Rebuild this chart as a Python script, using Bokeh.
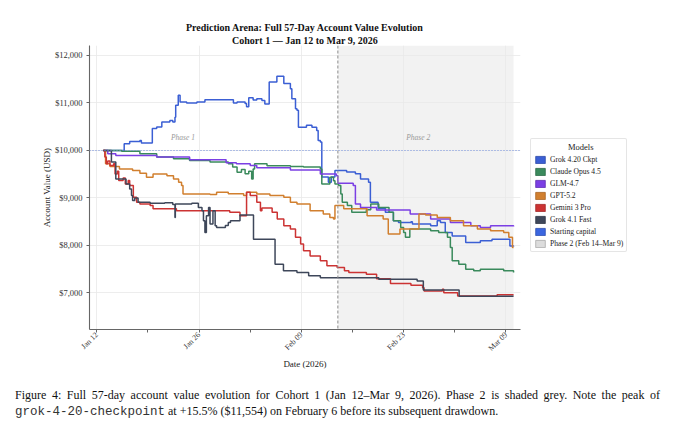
import math
from bokeh.plotting import figure
from bokeh.models import (Range1d, FixedTicker, Span, BoxAnnotation, Label, Legend,
                          LegendItem, Title, Div, NumeralTickFormatter)
from bokeh.layouts import column
from bokeh.embed import file_html
from bokeh.resources import INLINE

SERIF = "Liberation Serif"
NAN = float("nan")

# x values are days since Jan 12, 2026 00:00
x_ticks = [0, 14, 28, 42, 56]
x_tick_labels = ["Jan 12", "Jan 26", "Feb 09", "Feb 23", "Mar 09"]
x_minor_ticks = [7, 21, 35, 49]
y_ticks = [7000, 8000, 9000, 10000, 11000, 12000]

starting_capital = 10000
phase2_start = 33.0
phase2_end = 57.05

model_names = ["Grok 4.20 Ckpt", "Claude Opus 4.5", "GLM-4.7", "GPT-5.2", "Gemini 3 Pro", "Grok 4.1 Fast"]
model_colors = ["#3b5fd4", "#3a8a5c", "#7b3fe4", "#d17f2e", "#cc3333", "#3e475a"]

grok420_days = [0.9, 3.75, 4.5, 5.9, 6.1, 7.6, 8.2, 8.9, 10.0, 10.4, 10.7, 10.8, 11.15, 11.4, 12.3, 13.7, 14.8,
                18.7, 19.2, 20.3, 20.5, 20.8, 21.4, 21.9, 22.6, 23.0, 23.6, 24.65, 25.6, 26.5, 26.7, 27.2, 27.4,
                27.6, 28.7, 29.45, 30.1, 30.3, 30.6, 30.8, 31.7, 32.1, 32.6, 34.2, 35.4, 36.1, 37.2, 37.45, 38.5,
                39.5, 40.6, 41.3, 43.0, 43.2, 45.7, 46.6, 47.05, 47.7, 48.65, 50.5, 52.5, 54.1, 56.55, 57.05]
grok420_vals = [10000, 10140, 10190, 10210, 10155, 10460, 10495, 10600, 10630, 10600, 10700, 10950, 11160, 11020,
                11000, 11020, 11070, 11000, 11020, 10990, 10920, 11110, 11060, 11090, 11050, 10980, 11440, 11565,
                11410, 11300, 11090, 10880, 10845, 10490, 10530, 10490, 10420, 10210, 10180, 9440, 9330, 9440,
                9580, 9545, 9510, 9400, 9330, 8910, 8780, 8700, 8520, 8485, 8500, 8450, 8415, 8520, 8485, 8270,
                8200, 8060, 8100, 8130, 7990, 7980]

claude_days = [0.9, 3.4, 5.9, 8.2, 10.5, 12.7, 15.5, 18.0, 18.6, 19.2, 19.8, 20.3, 20.8, 21.2, 21.4, 21.6, 23.3,
               26.5, 28.3, 30.6, 30.8, 31.9, 32.4, 32.6, 33.1, 33.4, 33.6, 34.3, 34.9, 36.9, 37.5, 38.6, 40.0,
               40.6, 41.6, 42.0, 42.25, 42.85, 45.7, 46.8, 48.0, 48.4, 48.65, 49.55, 50.5, 51.6, 52.5, 55.7, 57.05]
claude_vals = [10000, 9985, 9930, 9860, 9825, 9790, 9755, 9720, 9650, 9540, 9600, 9510, 9560, 9400, 9610, 9720,
               9680, 9660, 9650, 9610, 9295, 9435, 9360, 9295, 9260, 9085, 8910, 8840, 8700, 8750, 8870, 8800,
               8700, 8520, 8380, 8270, 8170, 8345, 8310, 8270, 8170, 7955, 7675, 7605, 7500, 7465, 7500, 7465,
               7430]

glm_days = [0.9, 1.5, 2.6, 8.2, 12.7, 17.7, 19.1, 21.0, 21.9, 26.5, 30.6, 32.8, 33.0, 35.1, 35.4, 36.1, 38.3,
            40.2, 42.9, 45.7, 48.4, 51.2, 52.5, 53.9, 57.05]
glm_vals = [10000, 9930, 9895, 9860, 9805, 9740, 9720, 9685, 9635, 9590, 9505, 9470, 9310, 9260, 8875, 8800, 8745,
            8745, 8660, 8555, 8485, 8415, 8380, 8415, 8400]

gpt_days = [0.9, 1.2, 1.8, 3.1, 4.9, 5.9, 6.8, 7.7, 9.6, 10.5, 11.2, 11.6, 11.8, 15.5, 16.4, 18.0, 20.1, 20.5,
            21.9, 23.7, 25.6, 26.5, 27.4, 29.2, 31.0, 31.9, 32.4, 32.6, 33.8, 37.0, 39.2, 39.9, 41.5, 44.1, 45.0,
            46.6, 48.4, 50.2, 52.1, 53.9, 55.7, 56.4, 56.9, 57.05]
gpt_vals = [10000, 9720, 9660, 9610, 9580, 9520, 9435, 9505, 9470, 9400, 9330, 9260, 9085, 9070, 9120, 9090, 9050,
            9120, 9085, 9050, 9015, 8910, 8875, 8730, 8660, 8590, 8555, 8840, 8770, 8625, 8555, 8240, 8345, 8660,
            8640, 8590, 8520, 8415, 8345, 8310, 8275, 8170, 7955, 7955]

gemini_days = [0.9, 1.1, 1.3, 1.5, 1.8, 2.3, 2.5, 2.8, 3.0, 3.6, 3.9, 4.3, 4.5, 5.0, 5.45, 5.9, 7.3, 7.7, 10.9,
               18.2, 19.6, 20.5, 21.0, 21.9, 22.4, 22.6, 24.0, 24.7, 25.6, 26.5, 27.2, 27.9, 28.3, 29.2, 30.6,
               31.5, 32.9, 33.9, 34.5, 36.9, 38.3, 40.2, 43.0, 44.6, 44.8, 47.3, 47.5, 49.4, 54.8, 57.05]
gemini_vals = [10000, 9860, 9720, 9780, 9685, 9720, 9505, 9560, 9365, 9420, 9295, 9365, 9260, 9015, 8910, 8875,
               8840, 8770, 8730, 8700, 8625, 9120, 9050, 8910, 8730, 8790, 8700, 8555, 8415, 8345, 8170, 8030, 7890,
               7780, 7675, 7570, 7535, 7465, 7430, 7395, 7300, 7200, 7160, 7110, 7040, 7075, 7005, 6935, 6960, 6960]

grok41_days = [0.9, 2.0, 2.6, 4.0, 4.5, 4.75, 4.9, 5.2, 5.65, 7.3, 9.3, 10.4, 10.7, 10.75, 13.0, 13.9, 14.4,
               14.6, 14.8, 15.0, 15.3, 15.5, 15.9, 16.2, 16.4, 17.6, 18.0, 18.3, 19.6, 21.45, 24.4, 25.55, 27.4,
               29.0, 30.6, 38.6, 43.85, 44.7, 49.6, 57.05]
grok41_vals = [10000, 9755, 9400, 9295, 9190, 9050, 8945, 9000, 8910, 8890, 8900, 8860, 8590, 8875, 8890, 8800,
               8730, 8520, 8270, 8625, 8800, 8450, 8730, 8415, 8380, 8420, 8485, 8520, 8640, 8130, 7605, 7465, 7430,
               7360, 7320, 7290, 7250, 7060, 6930, 6930]

series = [(grok420_days, grok420_vals), (claude_days, claude_vals), (glm_days, glm_vals),
          (gpt_days, gpt_vals), (gemini_days, gemini_vals), (grok41_days, grok41_vals)]

p = figure(frame_width=431, frame_height=284, output_backend="svg", toolbar_location=None,
           x_range=Range1d(-1.0, 58.0), y_range=Range1d(6230, 12210),
           min_border_left=89, min_border_top=45, min_border_bottom=45, min_border_right=10)
p.outline_line_color = None
p.background_fill_color = "white"
p.border_fill_color = "white"

# two centred title lines
p.title = Title(text="Prediction Arena: Full 57-Day Account Value Evolution", align="center",
                text_font=SERIF, text_font_size="10px", text_font_style="bold",
                text_color="#111111", standoff=0)
p.add_layout(Title(text="Cohort 1 \u2014 Jan 12 to Mar 9, 2026", align="center", text_font=SERIF,
                   text_font_size="10px", text_font_style="bold", text_color="#111111", standoff=0),
             "above")

# phase 2 shading below grid
shade = BoxAnnotation(left=phase2_start, right=phase2_end, fill_color="#f2f2f2", fill_alpha=1.0,
                      line_color=None, level="image")
p.add_layout(shade)

for g in (p.xgrid, p.ygrid):
    g.grid_line_color = "#e9e9e9"
    g.grid_line_width = 0.8
p.xgrid.ticker = FixedTicker(ticks=x_ticks)
p.ygrid.ticker = FixedTicker(ticks=y_ticks)

p.add_layout(Span(location=starting_capital, dimension="width", line_color="#6f8ddc",
                  line_dash="1 2", line_width=1.1))
p.add_layout(Span(location=phase2_start, dimension="height", line_color="#8a8a8a",
                  line_dash="3 2", line_width=1.0))

for (d, v), c in zip(series, model_colors):
    p.step(d, v, mode="after", line_color=c, line_width=1.5)

p.add_layout(Label(x=11.8, y=10275, text="Phase 1", text_font=SERIF, text_font_size="7.5px",
                   text_font_style="italic", text_color="#999999", text_align="center",
                   text_baseline="middle"))
p.add_layout(Label(x=44.0, y=10275, text="Phase 2", text_font=SERIF, text_font_size="7.5px",
                   text_font_style="italic", text_color="#999999", text_align="center",
                   text_baseline="middle"))

# axes
xa = p.xaxis[0]
xa.ticker = FixedTicker(ticks=x_ticks, minor_ticks=x_minor_ticks)
xa.major_label_overrides = {t: lab for t, lab in zip(x_ticks, x_tick_labels)}
xa.major_label_orientation = math.pi / 4
xa.axis_label = "Date (2026)"
ya = p.yaxis[0]
ya.ticker = FixedTicker(ticks=y_ticks)
ya.formatter = NumeralTickFormatter(format="$0,0")
ya.axis_label = "Account Value (USD)"
for ax in (xa, ya):
    ax.axis_line_color = "#666666"
    ax.axis_line_width = 1.1
    ax.major_tick_line_color = "#666666"
    ax.minor_tick_line_color = "#666666"
    ax.major_tick_out = 3
    ax.major_tick_in = 0
    ax.minor_tick_out = 3
    ax.minor_tick_in = 0
    ax.major_label_text_font = SERIF
    ax.major_label_text_color = "#333333"
    ax.axis_label_text_font = SERIF
    ax.axis_label_text_font_size = "9px"
    ax.axis_label_text_font_style = "normal"
    ax.axis_label_text_color = "#222222"
ya.major_label_text_font_size = "8.5px"
xa.major_label_text_font_size = "7.8px"
ya.minor_tick_line_color = None
ya.major_label_standoff = 4
ya.axis_label_standoff = 0
xa.major_label_standoff = 1
xa.axis_label_standoff = 0

# legend with patch glyphs
legend_title = "Models"
legend_names = model_names + ["Starting capital", "Phase 2 (Feb 14\u2013Mar 9)"]
legend_fills = model_colors + ["#3b66e0", "#dcdcdc"]
legend_edges = ["#2d4aa8", "#2c6a47", "#5e2fb0", "#a86325", "#a32828", "#2f3645", "#2d4fb0", "#aaaaaa"]
items = []
for name, fc, lc in zip(legend_names, legend_fills, legend_edges):
    r = p.quad(left=[NAN], right=[NAN], top=[NAN], bottom=[NAN], fill_color=fc, line_color=lc,
               line_width=0.8)
    items.append(LegendItem(label=name, renderers=[r]))
legend = Legend(items=items, title="\u2002" * 8 + legend_title, location=(10, 77),
                title_text_font=SERIF, title_text_font_size="8.5px", title_text_font_style="normal",
                title_text_color="#222222", title_standoff=3,
                label_text_font=SERIF, label_text_font_size="7.6px", label_text_color="#222222",
                label_height=9, glyph_height=9, glyph_width=12, label_standoff=4, spacing=3,
                padding=3, margin=0, border_line_color="#cccccc", border_line_width=1,
                background_fill_color="white", background_fill_alpha=1.0, border_radius=2)
p.add_layout(legend, "right")

caption = Div(text=(
    "<div style=\"font-family:'Liberation Serif';font-size:12px;line-height:16px;color:#111;"
    "padding:13px 0 0 15px\">"
    "<div style=\"width:645px;text-align:justify;text-align-last:justify;white-space:normal\">"
    "Figure 4: Full 57-day account value evolution for Cohort 1 (Jan 12\u2013Mar 9, 2026). "
    "Phase 2 is shaded grey. Note the peak of</div>"
    "<div style=\"white-space:nowrap\">"
    "<span style=\"font-family:'Liberation Mono';font-size:12.5px;color:#333\">grok-4-20-checkpoint</span>"
    " at +15.5% ($11,554) on February 6 before its subsequent drawdown.</div></div>"),
    width=672, margin=0, disable_math=True)

layout = column(p, caption, spacing=0)
open("out.html", "w").write(file_html(layout, INLINE))
